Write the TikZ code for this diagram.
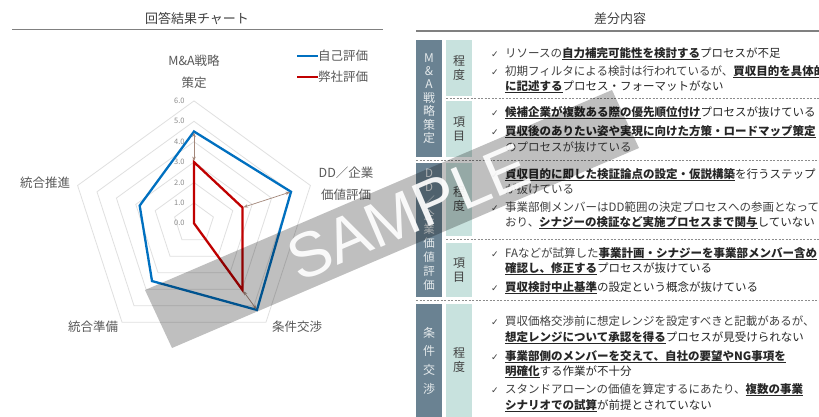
\documentclass[tikz,border=0pt]{standalone}
\usepackage{fontspec}
\setmainfont{Noto Sans CJK JP}
\newfontfamily\checkfont{DejaVu Sans}
\newfontfamily\stampfont{Liberation Sans}
\usetikzlibrary{arrows.meta}
\definecolor{selfblue}{HTML}{0070C0}
\definecolor{ourred}{HTML}{C00000}
\definecolor{gaparrow}{HTML}{A3877A}
\definecolor{inkgray}{HTML}{404040}
\definecolor{labelgray}{HTML}{595959}
\definecolor{slatecol}{HTML}{6A8292}
\definecolor{tealcol}{HTML}{C8E2DE}
\newcommand{\kw}[1]{\setbox0=\hbox{\bfseries\color{black!85}#1}\rlap{\color{black!85}\rule[-2.4pt]{\wd0}{1.1pt}}\box0}
\newcommand{\chk}{\makebox[14pt][l]{\checkfont\fontsize{9}{9}\selectfont ✓}}
\tikzset{
  radargrid/.style={draw=black!12, line width=0.8pt},
  selfline/.style={draw=selfblue, line width=2.3pt},
  ourline/.style={draw=ourred, line width=2.3pt},
  gapline/.style={draw=gaparrow, line width=0.7pt, <->, >={Stealth[length=4.5pt,width=3.5pt]}, shorten <=1pt, shorten >=1pt},
  ticklbl/.style={anchor=east, inner sep=0, font=\fontsize{7.5}{8}\selectfont, text=black!45},
  axislbl/.style={align=center, inner sep=0, font=\fontsize{12.5}{21.5}\selectfont, text=labelgray},
  headlbl/.style={inner sep=0, font=\fontsize{13}{15}\selectfont, text=inkgray},
  headrule/.style={draw=black!50, line width=1.2pt},
  catbox/.style={fill=slatecol, minimum width=26pt, inner sep=0, align=center, text=white!82!slatecol, font=\fontsize{12}{13.4}\selectfont},
  subbox/.style={fill=tealcol, minimum width=26pt, inner sep=0, align=center, text=inkgray, font=\fontsize{12}{14}\selectfont},
  sepline/.style={draw=black!45, line width=0.8pt, dash pattern=on 2pt off 1.5pt},
  rowtext/.style={anchor=base west, inner sep=0, font=\fontsize{11.5}{14}\selectfont, text=inkgray},
}
\begin{document}
\begin{tikzpicture}[x=1pt, y=-1pt]
\useasboundingbox (0,0) rectangle (819,416);
\fill[white] (0,0) rectangle (819,416);

% headings
\node[headlbl] (charthead) at (197,19) {回答結果チャート};
\draw[headrule] (12,29.5) -- (383,29.5);
\node[headlbl] (diffhead) at (620,19) {差分内容};
\draw[headrule] (416,31) -- (819,31);

% radar chart
\begin{scope}[shift={(194,223.3)}, x=20.4pt, y=20.4pt]
  \foreach \r in {1,...,6}
    \draw[radargrid] (90:\r) -- (18:\r) -- (-54:\r) -- (-126:\r) -- (162:\r) -- cycle;
  \foreach \r in {0,...,6}
    \node[ticklbl] (tick\r) at (-0.45,\r) {\r.0};
  \draw[selfline] (90:4.5) coordinate (b1) -- (18:5.0) coordinate (b2) -- (-54:5.25) coordinate (b3)
    -- (-126:3.5) coordinate (b4) -- (162:2.8) coordinate (b5) -- cycle;
  \draw[ourline] (90:3.0) coordinate (r1) -- (18:2.5) coordinate (r2) -- (-54:4.05) coordinate (r3)
    -- (0,0) coordinate (r4) -- cycle;
  \draw[gapline] (r1) -- (b1);
  \draw[gapline] (r2) -- (b2);
  \draw[gapline] (r3) -- (b3);
\end{scope}
\node[axislbl] (axstrat) at (194,72) {M\&A戦略\\策定};
\node[axislbl] (axdd) at (346,183.5) {DD／企業\\価値評価};
\node[axislbl] (axpmi) at (45,183) {統合推進};
\node[axislbl] (axprep) at (93,327) {統合準備};
\node[axislbl] (axdeal) at (297,327) {条件交渉};

% legend
\draw[selfline] (297,56) -- (318,56) coordinate (legself);
\node[axislbl, anchor=west] (lgself) at (legself) {自己評価};
\draw[ourline] (297,77) -- (318,77) coordinate (legour);
\node[axislbl, anchor=west] (lgour) at (legour) {弊社評価};

% table
\node[catbox, minimum height=117pt] (cat1) at (429,98.5) {M\\\&\\A\\戦\\略\\策\\定};
\node[catbox, minimum height=134pt, font=\fontsize{11.5}{14}\selectfont] (cat2) at (429,230) {D\\D\\／\\企\\業\\価\\値\\評\\価};
\node[catbox, minimum height=113pt, font=\fontsize{12}{18.7}\selectfont] (cat3) at (429,360.5) {条\\件\\交\\渉};
\node[subbox, minimum height=55.5pt] (sub1) at (459,67.75) {程\\度};
\node[subbox, minimum height=56pt] (sub2) at (459,129) {項\\目};
\node[subbox, minimum height=73pt] (sub3) at (459,199.5) {程\\度};
\node[subbox, minimum height=54pt] (sub4) at (459,270) {項\\目};
\node[subbox, minimum height=113pt] (sub5) at (459,360.5) {程\\度};
\draw[sepline] (446,98.5) -- (819,98.5);
\draw[sepline] (416,160.5) -- (819,160.5);
\draw[sepline] (446,239.5) -- (819,239.5);
\draw[sepline] (416,300.5) -- (819,300.5);

\node[rowtext] (l1) at (491,57.4) {\chk リソースの\kw{自力補完可能性を検討する}プロセスが不足};
\node[rowtext] (l2) at (491,75.4) {\chk 初期フィルタによる検討は行われているが、\kw{買収目的を具体的}};
\node[rowtext] (l3) at (505,90.4) {\kw{に記述する}プロセス・フォーマットがない};
\node[rowtext] (l4) at (491,116.4) {\chk \kw{候補企業が複数ある際の優先順位付け}プロセスが抜けている};
\node[rowtext] (l5) at (491,135.4) {\chk \kw{買収後のありたい姿や実現に向けた方策・ロードマップ策定}};
\node[rowtext] (l6) at (505,151.4) {のプロセスが抜けている};
\node[rowtext] (l7) at (491,178.4) {\chk \kw{買収目的に即した検証論点の設定・仮説構築}を行うステップ};
\node[rowtext] (l8) at (505,193.4) {が抜けている};
\node[rowtext] (l9) at (491,211.4) {\chk 事業部側メンバーはDD範囲の決定プロセスへの参画となって};
\node[rowtext] (l10) at (505,226.4) {おり、\kw{シナジーの検証など実施プロセスまで関与}していない};
\node[rowtext] (l11) at (491,257.4) {\chk FAなどが試算した\kw{事業計画・シナジーを事業部メンバー含め}};
\node[rowtext] (l12) at (505,272.4) {\kw{確認し、修正する}プロセスが抜けている};
\node[rowtext] (l13) at (491,291.4) {\chk \kw{買収検討中止基準}の設定という概念が抜けている};
\node[rowtext] (l14) at (491,325.4) {\chk 買収価格交渉前に想定レンジを設定すべきと記載があるが、};
\node[rowtext] (l15) at (505,341.4) {\kw{想定レンジについて承認を得る}プロセスが見受けられない};
\node[rowtext] (l16) at (491,360.4) {\chk \kw{事業部側のメンバーを交えて、自社の要望やNG事項を}};
\node[rowtext] (l17) at (505,375.4) {\kw{明確化}する作業が不十分};
\node[rowtext] (l18) at (491,393.4) {\chk スタンドアローンの価値を算定するにあたり、\kw{複数の事業}};
\node[rowtext] (l19) at (505,409.4) {\kw{シナリオでの試算}が前提とされていない};

% watermark
\fill[black, opacity=0.25] (145,290) -- (172,348) -- (639,148) -- (612,90) -- cycle;
\node[rotate=23.2, inner sep=0, text=white, opacity=0.92, font=\stampfont\fontsize{63}{63}\selectfont] (stamp) at (408,212) {SAMPLE};
\end{tikzpicture}
\end{document}
